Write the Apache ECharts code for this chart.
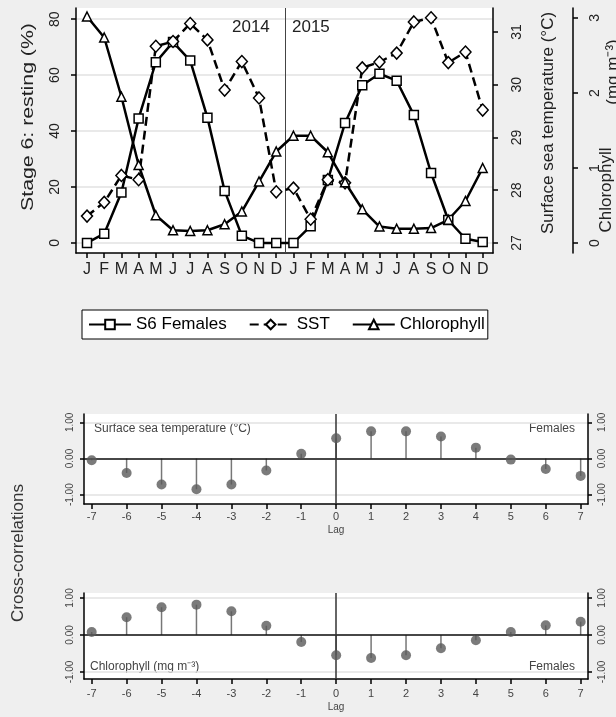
<!DOCTYPE html>
<html><head><meta charset="utf-8">
<script src="https://cdn.jsdelivr.net/npm/echarts@6/dist/echarts.min.js"></script>
<style>html,body{margin:0;padding:0;background:#efefef;}#c{width:616px;height:717px;}</style>
</head><body><div id="c"></div>
<script>
// ---------- data ----------
const monthLabels = ['J','F','M','A','M','J','J','A','S','O','N','D','J','F','M','A','M','J','J','A','S','O','N','D'];
const s6Females = [0, 3.3, 18, 44.5, 64.6, 71.8, 65.2, 44.8, 18.6, 2.6, 0, 0, 0, 6, 22.5, 42.9, 56.4, 60.5, 58, 45.7, 25, 8.2, 1.5, 0.3];
const sst = [27.51, 27.77, 28.28, 28.2, 30.73, 30.82, 31.16, 30.85, 29.9, 30.44, 29.75, 27.97, 28.04, 27.45, 28.2, 28.14, 30.32, 30.43, 30.6, 31.19, 31.27, 30.42, 30.62, 29.52];
const chlorophyll = [3.02, 2.74, 1.95, 1.04, 0.37, 0.17, 0.16, 0.17, 0.25, 0.42, 0.82, 1.22, 1.43, 1.43, 1.21, 0.81, 0.45, 0.22, 0.19, 0.19, 0.2, 0.31, 0.56, 1.0];
const leftTicks = [0, 20, 40, 60, 80];
const sstTicks = [27, 28, 29, 30, 31];
const chlTicks = [0, 1, 2, 3];
const lags = [-7, -6, -5, -4, -3, -2, -1, 0, 1, 2, 3, 4, 5, 6, 7];
const ccSST = [-0.05, -0.4, -0.72, -0.85, -0.72, -0.33, 0.13, 0.56, 0.75, 0.75, 0.61, 0.3, -0.03, -0.29, -0.48];
const ccChl = [0.08, 0.48, 0.75, 0.82, 0.64, 0.25, -0.19, -0.55, -0.62, -0.55, -0.36, -0.14, 0.08, 0.26, 0.36];
const ccTicks = [-1, 0, 1];
const yearLabels = ['2014', '2015'];

// ---------- helpers ----------
const FONT = "'Liberation Sans', Arial, sans-serif";
const monthIdx = monthLabels.map((_, i) => i);
const pair = (arr) => arr.map((v, i) => [i, v]);
const lagPair = (arr) => arr.map((v, i) => [lags[i], v]);

function yAx(grid, pos, min, max, ticks, fmt, opts) {
  opts = opts || {};
  return {
    gridIndex: grid, type: 'value', position: pos, min: min, max: max, offset: opts.offset || 0,
    axisLine: { show: true, onZero: false, lineStyle: { color: '#000', width: 1.5 } },
    axisTick: { show: true, customValues: ticks, length: opts.tickLen || 5, lineStyle: { color: '#000', width: 1.5 } },
    axisLabel: { customValues: ticks, rotate: 90, formatter: fmt, margin: opts.margin, fontSize: opts.fontSize || 14,
                 color: opts.labelColor || '#222', fontFamily: FONT },
    splitLine: { show: !!opts.split, lineStyle: { color: '#e2e2e2', width: 1.5 } }
  };
}
function xAx(grid, min, max, ticks, fmt, opts) {
  opts = opts || {};
  return Object.assign({
    gridIndex: grid, type: 'value', min: min, max: max,
    axisLine: { show: true, onZero: false, lineStyle: { color: '#000', width: 1.5 } },
    axisTick: { show: true, customValues: ticks, length: 5, lineStyle: { color: '#000', width: 1.5 } },
    axisLabel: { customValues: ticks, formatter: fmt, margin: opts.margin, fontSize: opts.fontSize,
                 color: opts.labelColor || '#222', fontFamily: FONT },
    splitLine: { show: false }
  }, opts.extra || {});
}

const lineCommon = {
  type: 'line', xAxisIndex: 0, symbolSize: 9, z: 5,
  itemStyle: { color: '#fff', borderColor: '#000', borderWidth: 1.5 },
  emphasis: { disabled: true }
};

function stems(name, xi, yi, data) {
  return { type: 'bar', name: name, xAxisIndex: xi, yAxisIndex: yi, data: lagPair(data), barWidth: 1.5,
           itemStyle: { color: '#777' }, silent: true, z: 3 };
}
function dots(name, xi, yi, data) {
  return { type: 'scatter', name: name, xAxisIndex: xi, yAxisIndex: yi, data: lagPair(data), symbol: 'circle',
           symbolSize: 10, itemStyle: { color: '#5a5a5a' }, silent: true, z: 6,
           markLine: { silent: true, symbol: 'none', label: { show: false },
             data: [ { yAxis: 0, lineStyle: { color: '#111', width: 1.5, type: 'solid' } },
                     { xAxis: 0, lineStyle: { color: '#333', width: 1.5, type: 'solid' } } ] } };
}

const ccFmt = (v) => (Math.abs(v) < 1e-9 ? 0 : v).toFixed(2);
const ccOpts = { fontSize: 10, margin: 9, labelColor: '#444', tickLen: 4 };

const chart = echarts.init(document.getElementById('c'));
chart.setOption({
  backgroundColor: '#efefef',
  animation: false,
  textStyle: { fontFamily: FONT },
  grid: [
    { left: 76, top: 8, width: 417, height: 245, show: true, backgroundColor: '#fff', borderWidth: 0 },
    { left: 84, top: 414, width: 504, height: 90, show: true, backgroundColor: '#fff', borderWidth: 0 },
    { left: 84, top: 593, width: 504, height: 86, show: true, backgroundColor: '#fff', borderWidth: 0 }
  ],
  xAxis: [
    xAx(0, -0.64, 23.6, monthIdx, (v) => monthLabels[Math.round(v)], { fontSize: 16, margin: 9 }),
    xAx(1, -7.22, 7.21, lags, (v) => String(Math.round(v)), { fontSize: 11, margin: 7, labelColor: '#444',
        extra: { name: 'Lag', nameLocation: 'middle', nameGap: 21, nameTextStyle: { fontSize: 10, color: '#444', fontFamily: FONT } } }),
    xAx(2, -7.22, 7.21, lags, (v) => String(Math.round(v)), { fontSize: 11, margin: 9, labelColor: '#444',
        extra: { name: 'Lag', nameLocation: 'middle', nameGap: 23, nameTextStyle: { fontSize: 10, color: '#444', fontFamily: FONT } } })
  ],
  yAxis: [
    yAx(0, 'left', -3.6, 84, leftTicks, (v) => String(Math.round(v)), { margin: 14, split: true }),
    yAx(0, 'right', 26.81, 31.455, sstTicks, (v) => String(Math.round(v)), { margin: 17 }),
    yAx(0, 'right', -0.133, 3.133, chlTicks, (v) => String(Math.round(v)), { margin: 15, offset: 80 }),
    yAx(1, 'left', -1.257, 1.23, ccTicks, ccFmt, Object.assign({ split: true }, ccOpts)),
    yAx(1, 'right', -1.257, 1.23, ccTicks, ccFmt, ccOpts),
    yAx(2, 'left', -1.19, 1.135, ccTicks, ccFmt, Object.assign({ split: true }, ccOpts)),
    yAx(2, 'right', -1.19, 1.135, ccTicks, ccFmt, ccOpts)
  ],
  legend: {
    left: 82, top: 310, orient: 'horizontal',
    padding: [6, 3, 6, 6], itemGap: 22, itemWidth: 42, itemHeight: 12,
    backgroundColor: '#fff', borderColor: '#000', borderWidth: 1, borderRadius: 0,
    textStyle: { fontSize: 17, color: '#000', fontFamily: FONT },
    data: ['S6 Females', 'SST', 'Chlorophyll']
  },
  series: [
    Object.assign({}, lineCommon, { name: 'S6 Females', yAxisIndex: 0, data: pair(s6Females), symbol: 'rect',
      lineStyle: { color: '#000', width: 2.5 },
      markLine: { silent: true, symbol: 'none', label: { show: false }, lineStyle: { color: '#444', width: 1, type: 'solid' },
                  data: [{ xAxis: 11.5 }] } }),
    Object.assign({}, lineCommon, { name: 'SST', yAxisIndex: 1, data: pair(sst), symbol: 'diamond', symbolSize: [11, 12],
      lineStyle: { color: '#000', width: 2.5, type: [9, 5] } }),
    Object.assign({}, lineCommon, { name: 'Chlorophyll', yAxisIndex: 2, data: pair(chlorophyll), symbol: 'triangle',
      lineStyle: { color: '#000', width: 2.5 } }),
    stems('sstStem', 1, 3, ccSST),
    dots('sstDot', 1, 3, ccSST),
    stems('chlStem', 2, 5, ccChl),
    dots('chlDot', 2, 5, ccChl)
  ],
  graphic: [
    { type: 'text', x: 28, y: 117, rotation: Math.PI / 2, scaleX: 1.25,
      style: { text: 'Stage 6: resting (%)', fontSize: 17, fontFamily: FONT, fill: '#222', align: 'center', verticalAlign: 'middle' } },
    { type: 'text', x: 548, y: 123, rotation: Math.PI / 2,
      style: { text: 'Surface sea temperature (°C)', fontSize: 17, fontFamily: FONT, fill: '#222', align: 'center', verticalAlign: 'middle' } },
    { type: 'text', x: 606, y: 190, rotation: Math.PI / 2,
      style: { text: 'Chlorophyll', fontSize: 17, fontFamily: FONT, fill: '#222', align: 'center', verticalAlign: 'middle' } },
    { type: 'text', x: 613, y: 72, rotation: Math.PI / 2,
      style: { text: '(mg m⁻³)', fontSize: 17, fontFamily: FONT, fill: '#222', align: 'center', verticalAlign: 'middle' } },
    { type: 'text', x: 232, y: 27,
      style: { text: yearLabels[0], fontSize: 17, fontFamily: FONT, fill: '#222', align: 'left', verticalAlign: 'middle' } },
    { type: 'text', x: 292, y: 27,
      style: { text: yearLabels[1], fontSize: 17, fontFamily: FONT, fill: '#222', align: 'left', verticalAlign: 'middle' } },
    { type: 'text', x: 18, y: 553, rotation: Math.PI / 2,
      style: { text: 'Cross-correlations', fontSize: 17, fontFamily: FONT, fill: '#333', align: 'center', verticalAlign: 'middle' } },
    { type: 'text', x: 94, y: 429,
      style: { text: 'Surface sea temperature (°C)', fontSize: 12, fontFamily: FONT, fill: '#444', align: 'left', verticalAlign: 'middle' } },
    { type: 'text', x: 575, y: 429,
      style: { text: 'Females', fontSize: 12, fontFamily: FONT, fill: '#444', align: 'right', verticalAlign: 'middle' } },
    { type: 'text', x: 90, y: 667,
      style: { text: 'Chlorophyll (mg m⁻³)', fontSize: 12, fontFamily: FONT, fill: '#444', align: 'left', verticalAlign: 'middle' } },
    { type: 'text', x: 575, y: 667,
      style: { text: 'Females', fontSize: 12, fontFamily: FONT, fill: '#444', align: 'right', verticalAlign: 'middle' } }
  ]
});
</script></body></html>
